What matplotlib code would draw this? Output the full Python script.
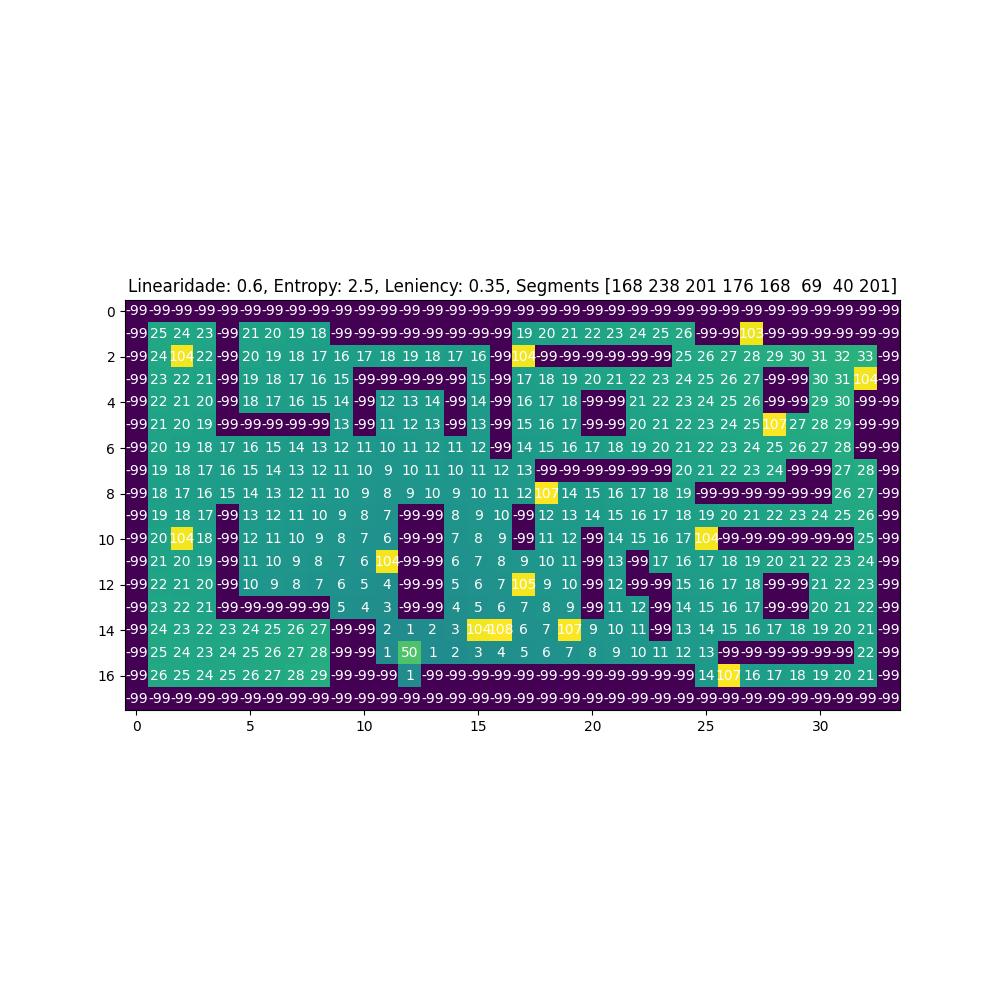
import numpy as np
import matplotlib
matplotlib.use("Agg")
import matplotlib.pyplot as plt

W = -99
row0 = [W] * 34
row1 = [W, 25, 24, 23, W, 21, 20, 19, 18, W, W, W, W, W, W, W, W, 19, 20, 21, 22, 23, 24, 25, 26, W, W, 103, W, W, W, W, W, W]
row2 = [W, 24, 104, 22, W, 20, 19, 18, 17, 16, 17, 18, 19, 18, 17, 16, W, 104, W, W, W, W, W, W, 25, 26, 27, 28, 29, 30, 31, 32, 33, W]
row3 = [W, 23, 22, 21, W, 19, 18, 17, 16, 15, W, W, W, W, W, 15, W, 17, 18, 19, 20, 21, 22, 23, 24, 25, 26, 27, W, W, 30, 31, 104, W]
row4 = [W, 22, 21, 20, W, 18, 17, 16, 15, 14, W, 12, 13, 14, W, 14, W, 16, 17, 18, W, W, 21, 22, 23, 24, 25, 26, W, W, 29, 30, W, W]
row5 = [W, 21, 20, 19, W, W, W, W, W, 13, W, 11, 12, 13, W, 13, W, 15, 16, 17, W, W, 20, 21, 22, 23, 24, 25, 107, 27, 28, 29, W, W]
row6 = [W, 20, 19, 18, 17, 16, 15, 14, 13, 12, 11, 10, 11, 12, 11, 12, W, 14, 15, 16, 17, 18, 19, 20, 21, 22, 23, 24, 25, 26, 27, 28, W, W]
row7 = [W, 19, 18, 17, 16, 15, 14, 13, 12, 11, 10, 9, 10, 11, 10, 11, 12, 13, W, W, W, W, W, W, 20, 21, 22, 23, 24, W, W, 27, 28, W]
row8 = [W, 18, 17, 16, 15, 14, 13, 12, 11, 10, 9, 8, 9, 10, 9, 10, 11, 12, 107, 14, 15, 16, 17, 18, 19, W, W, W, W, W, W, 26, 27, W]
row9 = [W, 19, 18, 17, W, 13, 12, 11, 10, 9, 8, 7, W, W, 8, 9, 10, W, 12, 13, 14, 15, 16, 17, 18, 19, 20, 21, 22, 23, 24, 25, 26, W]
row10 = [W, 20, 104, 18, W, 12, 11, 10, 9, 8, 7, 6, W, W, 7, 8, 9, W, 11, 12, W, 14, 15, 16, 17, 104, W, W, W, W, W, W, 25, W]
row11 = [W, 21, 20, 19, W, 11, 10, 9, 8, 7, 6, 104, W, W, 6, 7, 8, 9, 10, 11, W, 13, W, 17, 16, 17, 18, 19, 20, 21, 22, 23, 24, W]
row12 = [W, 22, 21, 20, W, 10, 9, 8, 7, 6, 5, 4, W, W, 5, 6, 7, 105, 9, 10, W, 12, W, W, 15, 16, 17, 18, W, W, 21, 22, 23, W]
row13 = [W, 23, 22, 21, W, W, W, W, W, 5, 4, 3, W, W, 4, 5, 6, 7, 8, 9, W, 11, 12, W, 14, 15, 16, 17, W, W, 20, 21, 22, W]
row14 = [W, 24, 23, 22, 23, 24, 25, 26, 27, W, W, 2, 1, 2, 3, 104, 108, 6, 7, 107, 9, 10, 11, W, 13, 14, 15, 16, 17, 18, 19, 20, 21, W]
row15 = [W, 25, 24, 23, 24, 25, 26, 27, 28, W, W, 1, 50, 1, 2, 3, 4, 5, 6, 7, 8, 9, 10, 11, 12, 13, W, W, W, W, W, W, 22, W]
row16 = [W, 26, 25, 24, 25, 26, 27, 28, 29, W, W, W, 1, W, W, W, W, W, W, W, W, W, W, W, W, 14, 107, 16, 17, 18, 19, 20, 21, W]
row17 = [W] * 34

rows = [row0, row1, row2, row3, row4, row5, row6, row7, row8, row9,
        row10, row11, row12, row13, row14, row15, row16, row17]

linearidade = 0.6
entropy = 2.5
leniency = 0.35
segments = [168, 238, 201, 176, 168, 69, 40, 201]

grid = np.array(rows)

fig, ax = plt.subplots(figsize=(10, 10), dpi=100)
ax.imshow(grid, cmap="viridis")
for i in range(grid.shape[0]):
    for j in range(grid.shape[1]):
        ax.text(j, i, str(grid[i, j]), ha="center", va="center", color="w")

ax.set_title(f"Linearidade: {linearidade}, Entropy: {entropy}, Leniency: {leniency}, Segments {np.array(segments)}")
fig.savefig("out.png")
